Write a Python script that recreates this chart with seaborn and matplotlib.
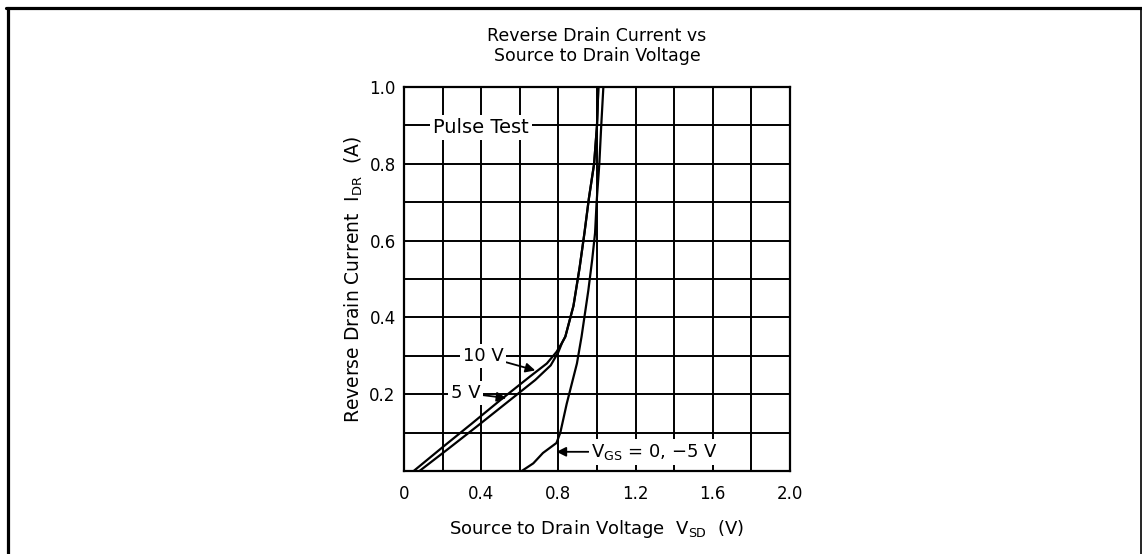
import numpy as np
import pandas as pd
import matplotlib.pyplot as plt
import seaborn as sns
from matplotlib.lines import Line2D

# curve data (V_SD in volts, I_DR in amps)
v_10 = [0.05, 0.20, 0.35, 0.50, 0.65, 0.74, 0.79, 0.82, 0.836, 0.878, 0.91, 0.935, 0.958, 0.985, 1.0, 1.007]
i_10 = [0.00, 0.062, 0.123, 0.185, 0.245, 0.28, 0.31, 0.335, 0.35, 0.43, 0.53, 0.62, 0.71, 0.80, 0.90, 1.00]

v_5 = [0.08, 0.23, 0.38, 0.53, 0.68, 0.76, 0.80, 0.82, 0.836, 0.878, 0.91, 0.935, 0.958, 0.985, 1.0, 1.007]
i_5 = [0.00, 0.058, 0.117, 0.177, 0.237, 0.275, 0.31, 0.335, 0.35, 0.43, 0.53, 0.62, 0.71, 0.80, 0.90, 1.00]

v_0 = [0.61, 0.67, 0.72, 0.79, 0.81, 0.843, 0.896, 0.92, 0.955, 0.975, 0.99, 0.998, 1.012, 1.022, 1.033]
i_0 = [0.00, 0.02, 0.047, 0.073, 0.10, 0.175, 0.28, 0.35, 0.47, 0.55, 0.62, 0.70, 0.80, 0.90, 1.00]

x_ticks = [0, 0.2, 0.4, 0.6, 0.8, 1.0, 1.2, 1.4, 1.6, 1.8, 2.0]
x_labels = ['0', '', '0.4', '', '0.8', '', '1.2', '', '1.6', '', '2.0']
y_ticks = [0, 0.1, 0.2, 0.3, 0.4, 0.5, 0.6, 0.7, 0.8, 0.9, 1.0]
y_labels = ['', '', '0.2', '', '0.4', '', '0.6', '', '0.8', '', '1.0']

df = pd.concat([
    pd.DataFrame({'v': v_10, 'i': i_10, 'curve': '10 V'}),
    pd.DataFrame({'v': v_5, 'i': i_5, 'curve': '5 V'}),
    pd.DataFrame({'v': v_0, 'i': i_0, 'curve': '0, -5 V'}),
])

sns.set_style('white')
plt.rcParams['font.family'] = ['DejaVu Sans']
plt.rcParams['mathtext.default'] = 'regular'
plt.rcParams['text.color'] = 'black'
plt.rcParams['axes.labelcolor'] = 'black'
plt.rcParams['xtick.color'] = 'black'
plt.rcParams['ytick.color'] = 'black'

fig = plt.figure(figsize=(11.42, 5.54), dpi=100)
ax = fig.add_axes([404 / 1142, 83 / 554, 386 / 1142, 384 / 554])

sns.lineplot(data=df, x='v', y='i', hue='curve', units='curve', estimator=None,
             sort=False, palette=['black'] * 3, legend=False, lw=1.6, ax=ax, zorder=3)

ax.set_xlim(0, 2.0)
ax.set_ylim(0, 1.0)
ax.set_xticks(x_ticks)
ax.set_xticklabels(x_labels, fontsize=12)
ax.set_yticks(y_ticks)
ax.set_yticklabels(y_labels, fontsize=12)
ax.tick_params(axis='x', length=0, pad=10)
ax.tick_params(axis='y', length=0, pad=6)
ax.grid(True, color='black', lw=1.4)
for s in ax.spines.values():
    s.set_color('black')
    s.set_linewidth(1.6)

ax.set_title('Reverse Drain Current vs\nSource to Drain Voltage', fontsize=12.5, pad=19,
             linespacing=1.15)
ax.set_xlabel(r'Source to Drain Voltage  $V_{SD}$  (V)', fontsize=13, labelpad=11)
ax.set_ylabel(r'Reverse Drain Current  $I_{DR}$  (A)', fontsize=13.5, labelpad=3)

box = dict(boxstyle='square,pad=0.15', fc='white', ec='none')
arrow = dict(arrowstyle='-|>', color='black', lw=1.3, mutation_scale=14, shrinkA=0, shrinkB=0)

ax.text(0.40, 0.895, 'Pulse Test', fontsize=14, ha='center', va='center', bbox=box, zorder=4)
ax.annotate('10 V', xy=(0.68, 0.262), xytext=(0.41, 0.30), fontsize=13, ha='center',
            va='center', bbox=box, arrowprops=arrow, zorder=4)
ax.annotate('5 V', xy=(0.53, 0.19), xytext=(0.32, 0.203), fontsize=13, ha='center',
            va='center', bbox=box, arrowprops=arrow, zorder=4)
ax.annotate(r'$V_{GS}$ = 0, $-$5 V', xy=(0.79, 0.05), xytext=(0.97, 0.05), fontsize=13,
            ha='left', va='center', bbox=box, arrowprops=arrow, zorder=4)

# outer frame of the picture
fig.add_artist(Line2D([7.5 / 1142, 7.5 / 1142], [0, 1 - 7.5 / 554], color='black', lw=2.3,
                      transform=fig.transFigure))
fig.add_artist(Line2D([6 / 1142, 1], [1 - 7.5 / 554, 1 - 7.5 / 554], color='black', lw=2.3,
                      transform=fig.transFigure))
fig.add_artist(Line2D([1140.5 / 1142, 1140.5 / 1142], [0, 1 - 7.5 / 554], color='black', lw=1.2,
                      transform=fig.transFigure))

fig.savefig('out.png', dpi=100)
